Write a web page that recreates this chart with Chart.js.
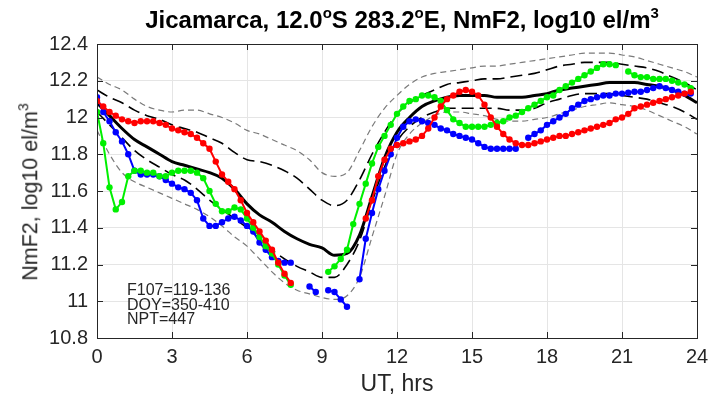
<!DOCTYPE html>
<html>
<head>
<meta charset="utf-8">
<script src="https://cdn.jsdelivr.net/npm/chart.js@4.4.1/dist/chart.umd.min.js"></script>
<style>
  html,body{margin:0;padding:0;background:#fff;}
  #wrap{position:relative;width:710px;height:404px;overflow:hidden;font-family:"Liberation Sans",Arial,Helvetica,sans-serif;color:#000;}
  canvas{position:absolute;left:0;top:0;}
  .lbl{position:absolute;white-space:nowrap;line-height:1;}
  #title{left:402px;top:20px;transform:translate(-50%,-50%);font-weight:bold;font-size:24px;}
  #title sup{font-size:15px;vertical-align:0;position:relative;top:-10px;}
  #ylab{font-size:21.5px;left:31px;top:192px;transform:translate(-50%,-50%) rotate(-90deg);color:#262626;}
  #ylab sup{font-size:14px;position:relative;top:-9px;vertical-align:0;}
  #xlab{font-size:23px;left:397px;top:383px;transform:translate(-50%,-50%);color:#262626;}
  #note{font-size:16px;left:127px;top:283px;line-height:14.5px;color:#262626;}
</style>
</head>
<body>
<div id="wrap">
  <canvas id="c" width="710" height="404"></canvas>
  <div id="title" class="lbl">Jicamarca, 12.0<sup>o</sup>S 283.2<sup>o</sup>E, NmF2, log10 el/m<sup>3</sup></div>
  <div id="ylab" class="lbl">NmF2, log10 el/m<sup>3</sup></div>
  <div id="xlab" class="lbl">UT, hrs</div>
  <div id="note" class="lbl">F107=119-136<br>DOY=350-410<br>NPT=447</div>
</div>
<script>
// ---- data ----
const xTicks = [0, 3, 6, 9, 12, 15, 18, 21, 24];
const yTicks = [10.8, 11, 11.2, 11.4, 11.6, 11.8, 12, 12.2, 12.4];

// observation times (UT hours), 15-minute cadence
const ut = [0,0.25,0.5,0.75,1,1.25,1.5,1.75,2,2.25,2.5,2.75,3,3.25,3.5,3.75,
  4,4.25,4.5,4.75,5,5.25,5.5,5.75,6,6.25,6.5,6.75,7,7.25,7.5,7.75,
  8,8.25,8.5,8.75,9,9.25,9.5,9.75,10,10.25,10.5,10.75,11,11.25,11.5,11.75,
  12,12.25,12.5,12.75,13,13.25,13.5,13.75,14,14.25,14.5,14.75,15,15.25,15.5,15.75,
  16,16.25,16.5,16.75,17,17.25,17.5,17.75,18,18.25,18.5,18.75,19,19.25,19.5,19.75,
  20,20.25,20.5,20.75,21,21.25,21.5,21.75,22,22.25,22.5,22.75,23,23.25,23.5,23.75];

const redDay = [12.09,12.06,12.03,12.01,11.99,11.98,11.97,11.98,11.98,11.98,11.97,11.96,11.94,11.93,11.92,11.91,
  11.89,11.86,11.83,11.76,11.69,11.65,11.61,11.55,11.48,11.43,11.38,11.33,11.28,11.21,11.15,11.10,
  null,null,null,null,null,null,null,null,null,null,null,11.45,11.55,11.68,11.77,11.83,
  11.85,11.86,11.87,11.88,11.90,11.94,12.00,12.06,12.10,12.12,12.14,12.15,12.14,12.12,12.07,12.00,
  11.95,11.91,11.88,11.86,11.85,11.85,11.86,11.87,11.88,11.89,11.90,11.90,11.91,11.92,11.93,11.94,
  11.95,11.96,11.97,11.99,12.00,12.02,12.05,12.06,12.07,12.08,12.09,12.10,12.11,12.12,12.13,12.14];

const greenDay = [12.03,11.86,11.62,11.50,11.54,11.68,11.71,11.71,11.70,11.70,11.68,11.68,11.70,11.71,11.71,11.71,
  11.70,11.67,11.60,11.53,11.49,11.49,11.51,11.50,11.45,11.40,11.35,11.30,11.26,11.20,11.14,11.09,
  null,null,null,null,null,11.16,11.19,11.23,11.28,11.42,11.53,11.64,11.75,11.84,11.90,11.96,
  12.02,12.06,12.09,12.10,12.12,12.12,12.11,12.09,12.04,11.99,11.97,11.95,11.95,11.95,11.95,11.96,
  11.97,11.98,12.00,12.01,12.03,12.05,12.07,12.09,12.11,12.12,12.15,12.17,12.19,12.21,12.23,12.25,
  12.27,12.29,12.29,12.285,null,12.25,12.23,12.22,12.22,12.21,12.21,12.21,12.20,12.19,12.18,12.16];

const blueDay = [12.11,12.03,11.98,11.92,11.87,11.80,11.71,11.69,11.69,11.69,11.68,11.66,11.64,11.62,11.61,11.59,
  11.55,11.45,11.41,11.41,11.43,11.45,11.46,11.44,11.41,11.38,11.32,11.28,11.24,11.22,11.21,11.21,
  null,null,11.08,11.05,null,11.06,11.05,11.01,10.97,null,11.12,11.34,11.48,11.61,11.71,11.80,
  11.89,11.95,11.98,11.99,11.98,11.97,11.96,11.94,11.93,11.91,11.90,11.89,11.88,11.86,11.84,11.83,
  11.83,11.83,11.83,11.83,null,11.89,11.91,11.93,11.96,11.98,12.00,12.02,12.05,12.07,12.09,12.10,
  12.11,12.12,12.12,12.13,12.13,12.135,12.14,12.14,12.15,12.16,12.17,12.16,12.15,12.14,12.13,12.13];

// statistical model curves, 30-minute grid
const utStat = [0,0.5,1,1.5,2,2.5,3,3.5,4,4.5,5,5.5,6,6.5,7,7.5,8,8.5,9,9.5,10,10.5,11,11.5,
  12,12.5,13,13.5,14,14.5,15,15.5,16,16.5,17,17.5,18,18.5,19,19.5,20,20.5,21,21.5,22,22.5,23,23.5,24];

const meanCurve = [12.08,12.01,11.94,11.88,11.84,11.80,11.76,11.74,11.72,11.70,11.67,11.61,11.53,11.47,11.43,11.38,
  11.34,11.31,11.29,11.25,11.26,11.36,11.57,11.78,11.92,12.00,12.06,12.09,12.11,12.12,12.12,12.12,
  12.11,12.11,12.11,12.12,12.13,12.15,12.16,12.17,12.18,12.19,12.19,12.19,12.18,12.17,12.15,12.12,12.08];

const upperInner = [12.15,12.11,12.08,12.04,12.01,11.99,11.96,11.94,11.92,11.89,11.86,11.81,11.77,11.76,11.74,11.71,
  11.67,11.61,11.55,11.52,11.55,11.66,11.80,11.92,12.02,12.08,12.12,12.15,12.18,12.19,12.20,12.21,
  12.21,12.22,12.23,12.24,12.26,12.28,12.29,12.30,12.30,12.30,12.29,12.28,12.27,12.25,12.22,12.19,12.15];

const lowerInner = [12.03,11.96,11.89,11.82,11.77,11.73,11.69,11.66,11.61,11.55,11.50,11.45,11.40,11.34,11.28,11.23,
  11.19,11.16,11.13,11.13,11.20,11.33,11.54,11.73,11.87,11.95,12.00,12.03,12.05,12.05,12.05,12.05,
  12.05,12.04,12.04,12.05,12.08,12.10,12.12,12.13,12.13,12.13,12.12,12.11,12.10,12.08,12.06,12.03,11.99];

const upperOuter = [12.22,12.18,12.15,12.10,12.06,12.04,12.03,12.04,12.04,12.02,12.00,11.97,11.93,11.91,11.88,11.85,
  11.82,11.77,11.70,11.68,11.70,11.82,11.95,12.05,12.12,12.18,12.22,12.24,12.25,12.26,12.27,12.28,
  12.28,12.29,12.30,12.31,12.32,12.33,12.34,12.35,12.35,12.35,12.34,12.33,12.31,12.29,12.27,12.25,12.22];

const lowerOuter = [11.93,11.80,11.70,11.65,11.62,11.59,11.56,11.53,11.50,11.46,11.41,11.35,11.30,11.23,11.16,11.10,
  11.06,11.04,11.02,11.01,11.03,11.13,11.35,11.57,11.80,11.91,11.97,12.01,12.03,12.03,12.02,12.01,
  11.99,11.98,11.98,11.99,12.00,12.02,12.04,12.06,12.07,12.08,12.07,12.06,12.04,12.01,11.98,11.95,11.91];

// ---- build ----
function pts(xs, ys){ return xs.map((x,i)=>({x:x, y:ys[i]})); }
function obs(label, color, ys, order){
  return {label, data:pts(ut, ys), borderColor:color, backgroundColor:color,
    borderWidth:2, pointRadius:3.2, pointBorderWidth:0, pointHoverRadius:3.2,
    spanGaps:false, tension:0, order};
}
function stat(label, ys, color, width, dash){
  return {label, data:pts(utStat, ys), borderColor:color, borderWidth:width,
    borderDash:dash, pointRadius:0, cubicInterpolationMode:'monotone', order:10, fill:false};
}

const frame = {
  id:'frame',
  afterDatasetsDraw(chart){
    const {ctx, chartArea:a, scales:{x, y}} = chart;
    ctx.save();
    ctx.strokeStyle = '#262626';
    ctx.lineWidth = 1;
    ctx.beginPath();
    xTicks.forEach(v=>{
      const px = Math.round(x.getPixelForValue(v))+0.5;
      ctx.moveTo(px, a.bottom); ctx.lineTo(px, a.bottom-6);
      ctx.moveTo(px, a.top); ctx.lineTo(px, a.top+6);
    });
    yTicks.forEach(v=>{
      const py = Math.round(y.getPixelForValue(v))+0.5;
      ctx.moveTo(a.left, py); ctx.lineTo(a.left+6, py);
      ctx.moveTo(a.right, py); ctx.lineTo(a.right-6, py);
    });
    ctx.stroke();
    ctx.strokeRect(Math.round(a.left)+0.5, Math.round(a.top)+0.5, Math.round(a.right-a.left), Math.round(a.bottom-a.top));
    ctx.restore();
  }
};

new Chart(document.getElementById('c'), {
  type:'line',
  data:{datasets:[
    obs('red', '#ff0000', redDay, 1),
    obs('green', '#00f000', greenDay, 2),
    obs('blue', '#0000ff', blueDay, 3),
    stat('mean', meanCurve, '#000000', 3, []),
    stat('upper inner', upperInner, '#000000', 1.6, [12,6]),
    stat('lower inner', lowerInner, '#000000', 1.6, [12,6]),
    stat('upper outer', upperOuter, '#7a7a7a', 1.2, [6,4]),
    stat('lower outer', lowerOuter, '#7a7a7a', 1.2, [6,4])
  ]},
  options:{
    responsive:false, animation:false, devicePixelRatio:1,
    layout:{padding:{top:44, right:13, left:0, bottom:0}},
    plugins:{legend:{display:false}, tooltip:{enabled:false}, title:{display:false}},
    scales:{
      x:{type:'linear', min:0, max:24,
        afterBuildTicks(s){ s.ticks = xTicks.map(v=>({value:v})); },
        afterFit(s){ s.height = 66; s.paddingLeft = 0; s.paddingRight = 0; },
        grid:{color:'#e5e5e5', drawTicks:false, lineWidth:1},
        border:{display:false},
        ticks:{color:'#262626', font:{family:'Liberation Sans', size:20}, padding:7, maxRotation:0}
      },
      y:{type:'linear', min:10.8, max:12.4,
        afterBuildTicks(s){ s.ticks = yTicks.map(v=>({value:v})); },
        afterFit(s){ s.width = 97; s.paddingTop = 0; s.paddingBottom = 0; },
        grid:{color:'#e5e5e5', drawTicks:false, lineWidth:1},
        border:{display:false},
        ticks:{color:'#262626', font:{family:'Liberation Sans', size:20}, padding:9,
          callback:(v)=>String(Math.round(v*10)/10)}
      }
    }
  },
  plugins:[frame]
});
</script>
</body>
</html>
